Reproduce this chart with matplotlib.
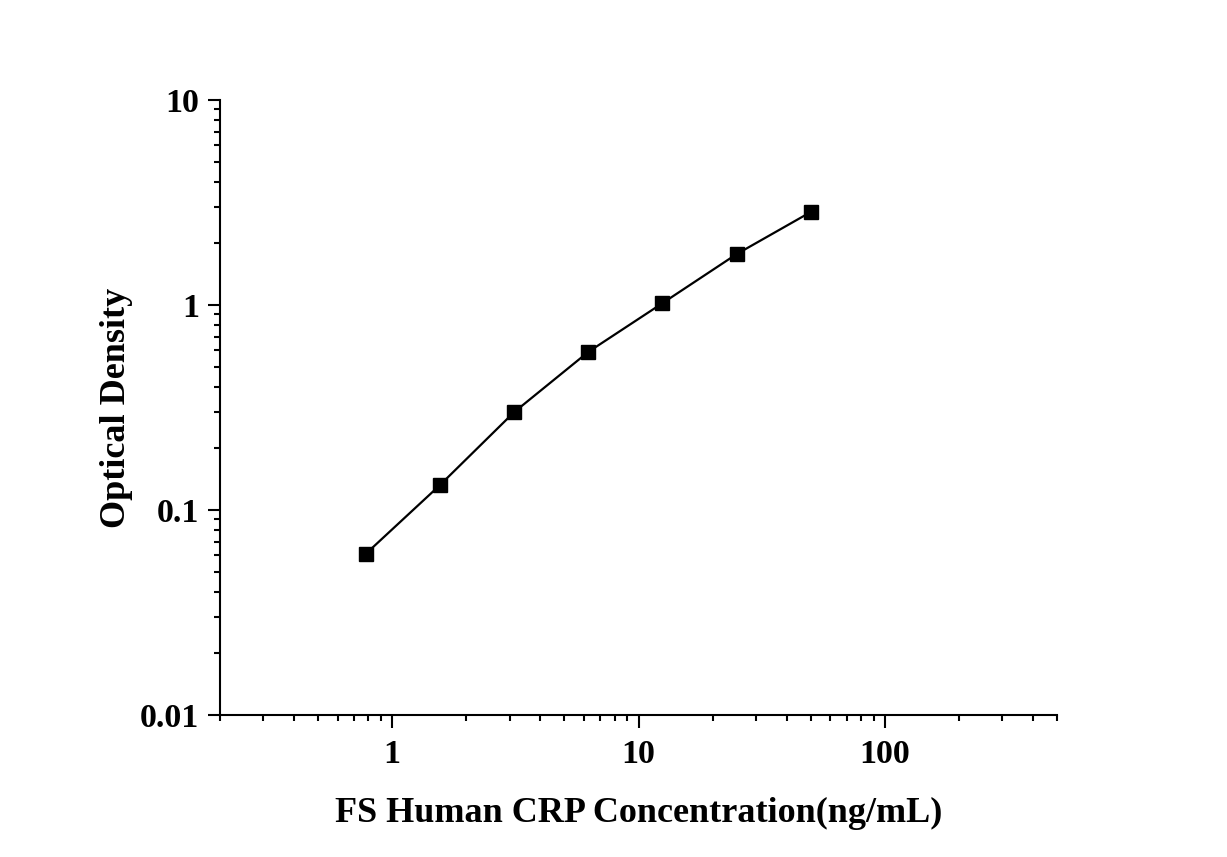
import matplotlib
matplotlib.use("Agg")
import matplotlib.pyplot as plt
from matplotlib.ticker import LogLocator, FixedLocator, FixedFormatter, NullFormatter

# standard curve: concentration (ng/mL) vs OD
conc = [0.78, 1.56, 3.125, 6.25, 12.5, 25, 50]
od = [0.061, 0.132, 0.30, 0.59, 1.02, 1.77, 2.84]

x_ticks = [1, 10, 100]
x_labels = ["1", "10", "100"]
y_ticks = [0.01, 0.1, 1, 10]
y_labels = ["0.01", "0.1", "1", "10"]

plt.rcParams["font.family"] = ["Liberation Serif", "DejaVu Serif"]
plt.rcParams["font.weight"] = "bold"

fig = plt.figure(figsize=(12.27, 8.57), dpi=100)
ax = fig.add_axes([220 / 1227, 1 - 715 / 857, (1057 - 220) / 1227, (715 - 100) / 857])

ax.plot(conc, od, color="black", linewidth=1.6, marker="s", markersize=9.5,
        markerfacecolor="black", markeredgecolor="black")

ax.set_xscale("log")
ax.set_yscale("log")
ax.set_xlim(0.2, 500)
ax.set_ylim(0.01, 10)

ax.xaxis.set_major_locator(FixedLocator(x_ticks))
ax.xaxis.set_major_formatter(FixedFormatter(x_labels))
ax.xaxis.set_minor_locator(LogLocator(base=10, subs=range(2, 10), numticks=20))
ax.xaxis.set_minor_formatter(NullFormatter())
ax.yaxis.set_major_locator(FixedLocator(y_ticks))
ax.yaxis.set_major_formatter(FixedFormatter(y_labels))
ax.yaxis.set_minor_locator(LogLocator(base=10, subs=range(2, 10), numticks=20))
ax.yaxis.set_minor_formatter(NullFormatter())

for side in ["top", "right"]:
    ax.spines[side].set_visible(False)
for side in ["left", "bottom"]:
    ax.spines[side].set_linewidth(1.5)

ax.tick_params(which="major", direction="out", length=9, width=1.5,
               labelsize=24.5)
ax.tick_params(axis="x", which="major", pad=8)
ax.tick_params(axis="y", which="major", pad=6)
ax.tick_params(which="minor", direction="out", length=4.5, width=1.5)

ax.set_xlabel("FS Human CRP Concentration(ng/mL)", fontsize=26,
              fontweight="bold", labelpad=20)
ax.set_ylabel("Optical Density", fontsize=26, fontweight="bold", labelpad=5)

fig.savefig("out.png", dpi=100)
